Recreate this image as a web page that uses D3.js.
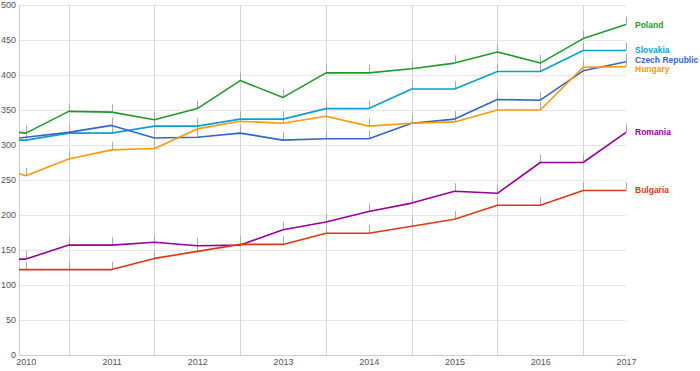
<!DOCTYPE html>
<html>
<head>
<meta charset="utf-8">
<script src="https://cdn.jsdelivr.net/npm/d3@7"></script>
<style>
  html, body { margin: 0; padding: 0; background: #fff; }
  svg { display: block; font-family: "Liberation Sans", Arial, sans-serif; }
</style>
</head>
<body>
<svg id="chart" width="700" height="371"></svg>
<script>
// ---- data ----
const xPoints = [2009.92, 2010, 2010.5, 2011, 2011.5, 2012, 2012.5, 2013, 2013.5, 2014, 2014.5, 2015, 2015.5, 2016, 2016.5, 2017];
const seriesNames = ["Poland", "Slovakia", "Czech Republic", "Hungary", "Romania", "Bulgaria"];
const seriesColors = ["#1f9a2a", "#0a9fd0", "#3366cc", "#ff9900", "#990099", "#dc3912"];
const poland   = [318, 317, 348, 347, 336, 352, 392, 368, 403, 403, 409, 417, 433, 417, 452, 472];
const slovakia = [307, 307, 317, 317, 327, 327, 337, 337, 352, 352, 380, 380, 405, 405, 435, 435];
const czech    = [310, 311, 318, 328, 310, 311, 317, 307, 309, 309, 331, 337, 365, 364, 406, 419];
const hungary  = [259, 256, 280, 293, 295, 323, 334, 331, 341, 327, 331, 333, 350, 350, 411, 412];
const romania  = [137, 137, 157, 157, 161, 156, 157, 179, 190, 205, 217, 234, 231, 275, 275, 318];
const bulgaria = [122, 122, 122, 122, 138, 148, 158, 158, 174, 174, 184, 194, 214, 214, 235, 235];
const yearTicks = [2010, 2011, 2012, 2013, 2014, 2015, 2016, 2017];
const halfYearGrid = [2010.5, 2011.5, 2012.5, 2013.5, 2014.5, 2015.5, 2016.5];
const yTicks = [0, 50, 100, 150, 200, 250, 300, 350, 400, 450, 500];

const seriesValues = [poland, slovakia, czech, hungary, romania, bulgaria];

// ---- layout ----
const svg = d3.select("#chart");
const pL = 19, pR = 626, pT = 5, pB = 355;
const x = d3.scaleLinear().domain([xPoints[0], 2017]).range([pL, pR]);
const y = d3.scaleLinear().domain([0, 500]).range([pB, pT]);

// horizontal gridlines
svg.append("g").selectAll("line").data(yTicks.filter(d => d > 0)).join("line")
  .attr("x1", pL).attr("x2", pR)
  .attr("y1", d => Math.round(y(d)) + 0.5).attr("y2", d => Math.round(y(d)) + 0.5)
  .attr("stroke", "#e6e6e6").attr("stroke-width", 1);

// vertical gridlines at half years
svg.append("g").selectAll("line").data(halfYearGrid).join("line")
  .attr("x1", d => Math.round(x(d)) + 0.5).attr("x2", d => Math.round(x(d)) + 0.5)
  .attr("y1", pT).attr("y2", pB)
  .attr("stroke", "#d6d6d6").attr("stroke-width", 1);

// axes lines
svg.append("line").attr("x1", pL + 0.5).attr("x2", pL + 0.5).attr("y1", pT).attr("y2", pB)
  .attr("stroke", "#cccccc");
svg.append("line").attr("x1", pL).attr("x2", pR).attr("y1", pB + 0.5).attr("y2", pB + 0.5)
  .attr("stroke", "#cccccc");

// y axis labels
const yAxis = d3.axisLeft(y).tickValues(yTicks).tickSize(0).tickPadding(3);
const yg = svg.append("g").attr("transform", `translate(${pL},0)`).call(yAxis);
yg.select(".domain").remove();
yg.selectAll("text").attr("fill", "#555").style("font-size", "9px")
  .style("font-family", "'Liberation Sans', Arial, sans-serif");

// x axis labels
const xAxis = d3.axisBottom(x).tickValues(yearTicks).tickFormat(d3.format("d")).tickSize(0).tickPadding(4);
const xg = svg.append("g").attr("transform", `translate(0,${pB})`).call(xAxis);
xg.select(".domain").remove();
xg.selectAll("text").attr("fill", "#555").style("font-size", "9px")
  .style("font-family", "'Liberation Sans', Arial, sans-serif");

// small stems above points
const stems = svg.append("g");
seriesValues.forEach(vals => {
  stems.append("g").selectAll("line").data(vals.slice(1).map((v, i) => [xPoints[i + 1], v])).join("line")
    .attr("x1", d => Math.round(x(d[0])) + 0.5).attr("x2", d => Math.round(x(d[0])) + 0.5)
    .attr("y1", d => y(d[1]) - 8).attr("y2", d => y(d[1]))
    .attr("stroke", "#aaa").attr("stroke-width", 1);
});

// lines
const line = d3.line().x((d, i) => x(xPoints[i])).y(d => y(d));
seriesValues.forEach((vals, k) => {
  svg.append("path").datum(vals).attr("d", line)
    .attr("fill", "none").attr("stroke", seriesColors[k]).attr("stroke-width", 1.6)
    .attr("stroke-linejoin", "round");
});

// end labels with collision avoidance
const labels = seriesNames.map((n, k) => ({ name: n, color: seriesColors[k], y0: y(seriesValues[k][seriesValues[k].length - 1]) }));
labels.forEach(l => l.y = l.y0);
const gap = 9;
for (let it = 0; it < 50; it++) {
  labels.sort((a, b) => a.y - b.y);
  for (let i = 1; i < labels.length; i++) {
    const d = labels[i].y - labels[i - 1].y;
    if (d < gap) {
      const s = (gap - d) / 2;
      labels[i].y += s; labels[i - 1].y -= s;
    }
  }
}
svg.append("g").selectAll("text").data(labels).join("text")
  .attr("x", pR + 9).attr("y", d => d.y).attr("dy", "0.35em")
  .attr("fill", d => d.color).style("font-size", "8.5px").style("font-weight", "bold")
  .text(d => d.name);
</script>
</body>
</html>
